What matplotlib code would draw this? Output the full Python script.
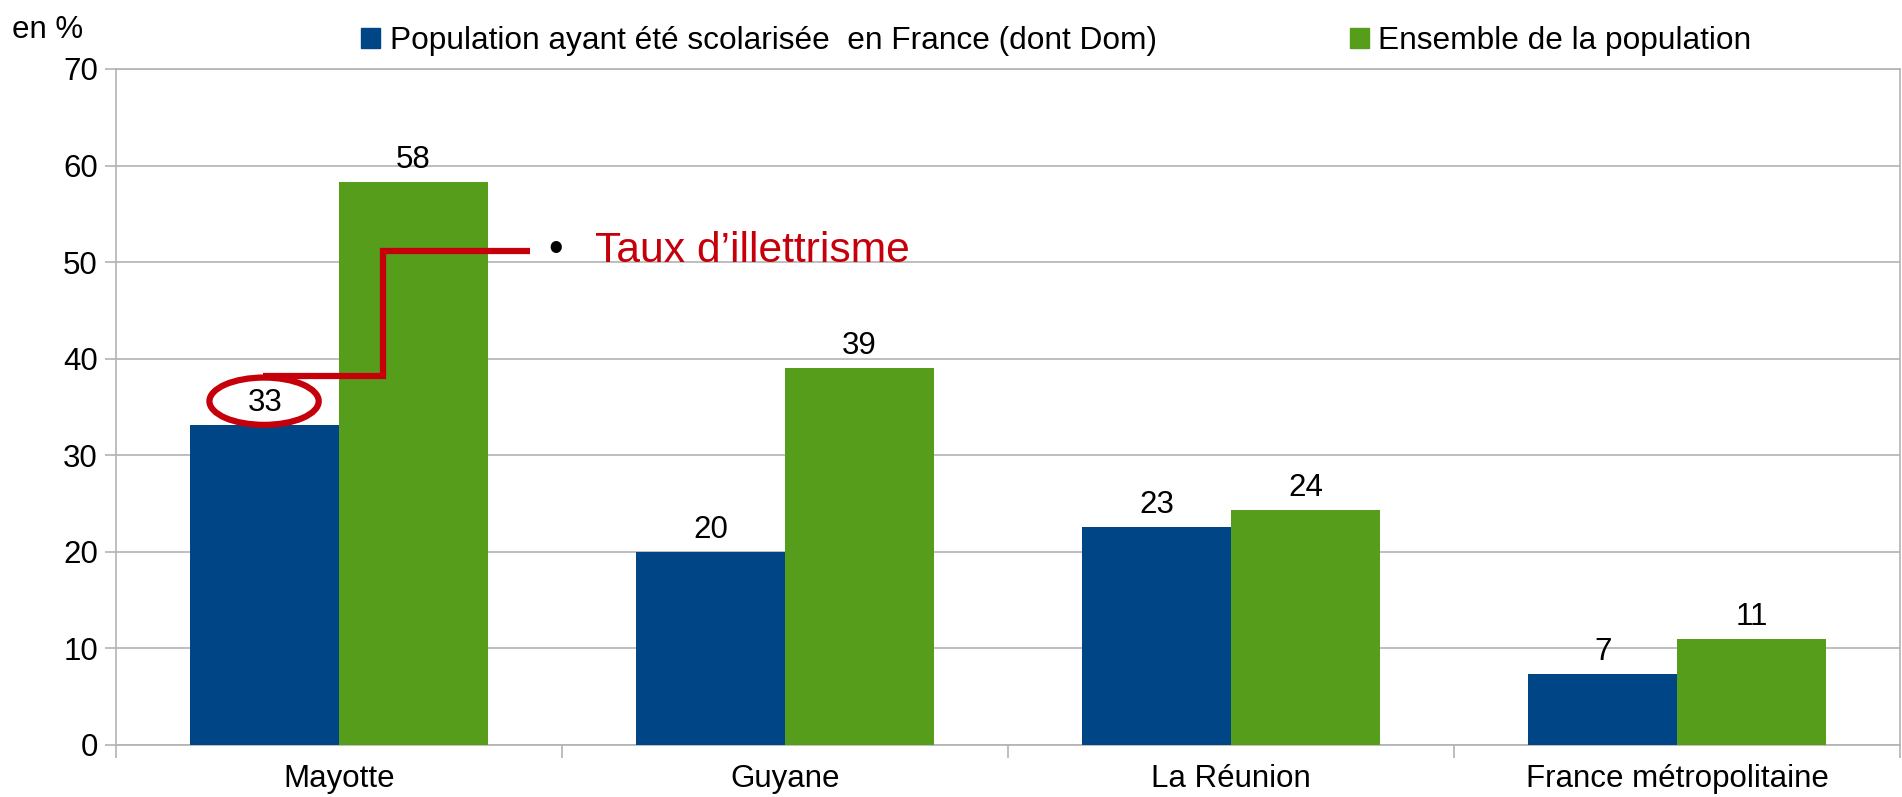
import matplotlib
matplotlib.use("Agg")
import matplotlib.pyplot as plt
import numpy as np
from matplotlib.patches import Patch, Ellipse

plt.rcParams['font.family'] = ['Liberation Sans', 'DejaVu Sans']

categories = ["Mayotte", "Guyane", "La Réunion", "France métropolitaine"]
series_names = ["Population ayant été scolarisée  en France (dont Dom)", "Ensemble de la population"]
scolarisee = [33.1, 20.0, 22.6, 7.4]
ensemble = [58.3, 39.0, 24.3, 11.0]
labels_scol = ["33", "20", "23", "7"]
labels_ens = ["58", "39", "24", "11"]
yticks = [0, 10, 20, 30, 40, 50, 60, 70]

BLUE = "#004586"
GREEN = "#579d1c"
RED = "#c5000b"
GRID = "#b3b3b3"
FS = 22.5

fig = plt.figure(figsize=(19.02, 7.97), dpi=100)
ax = fig.add_axes([116/1902, 1-745/797, (1900-116)/1902, (745-69)/797])

x = np.arange(len(categories))
w = 1/3
b1 = ax.bar(x - w/2, scolarisee, w, color=BLUE, zorder=3)
b2 = ax.bar(x + w/2, ensemble, w, color=GREEN, zorder=3)

for bars, labs in ((b1, labels_scol), (b2, labels_ens)):
    for r, t in zip(bars, labs):
        ax.annotate(t, (r.get_x() + r.get_width()/2, r.get_height()),
                    xytext=(0, 10), textcoords="offset points",
                    ha="center", va="baseline", fontsize=FS, zorder=5)

ax.set_xlim(-0.5, len(categories) - 0.5)
ax.set_ylim(0, 70)
ax.set_yticks(yticks)
ax.set_yticklabels([str(v) for v in yticks], fontsize=FS)
ax.yaxis.grid(True, color=GRID, linewidth=1.2, zorder=0)
ax.set_xticks(np.arange(-0.5, len(categories)), labels=[""] * (len(categories) + 1))
ax.set_xticks(x, labels=categories, minor=True, fontsize=FS)
ax.tick_params(axis="x", which="major", length=9, color=GRID, width=1.2)
ax.tick_params(axis="x", which="minor", length=0, pad=13.5)
ax.tick_params(axis="y", length=8, color=GRID, width=1.2, pad=5)
for s in ax.spines.values():
    s.set_color(GRID)
    s.set_linewidth(1.2)

# annotation: ellipse + connector + text
ell = Ellipse((-0.168, 35.6), 0.245, 4.9, fill=False, edgecolor=RED, linewidth=4.5, zorder=6)
ax.add_patch(ell)
ax.plot([-0.17, 0.099, 0.099, 0.428], [38.2, 38.2, 51.2, 51.2], color=RED, linewidth=4.5,
        solid_capstyle="butt", solid_joinstyle="miter", zorder=6)
ax.text(0.485, 51.3, "•", fontsize=30, va="center", ha="center", color="black", zorder=6)
ax.text(0.573, 51.2, "Taux d’illettrisme", fontsize=30.7, va="center", ha="left", color=RED, zorder=6)

fig.text(12/1902, 1-30/797, "en %", fontsize=FS, va="center", ha="left")

handles = [Patch(color=BLUE), Patch(color=GREEN)]
fig.legend(handles, series_names, loc="center left", bbox_to_anchor=(361/1902, 1-41/797),
           ncol=2, frameon=False, fontsize=22.8, handlelength=0.6, handleheight=0.6,
           handletextpad=0.3, columnspacing=6.1, borderpad=0, borderaxespad=0)

fig.savefig("out.png", dpi=100)
